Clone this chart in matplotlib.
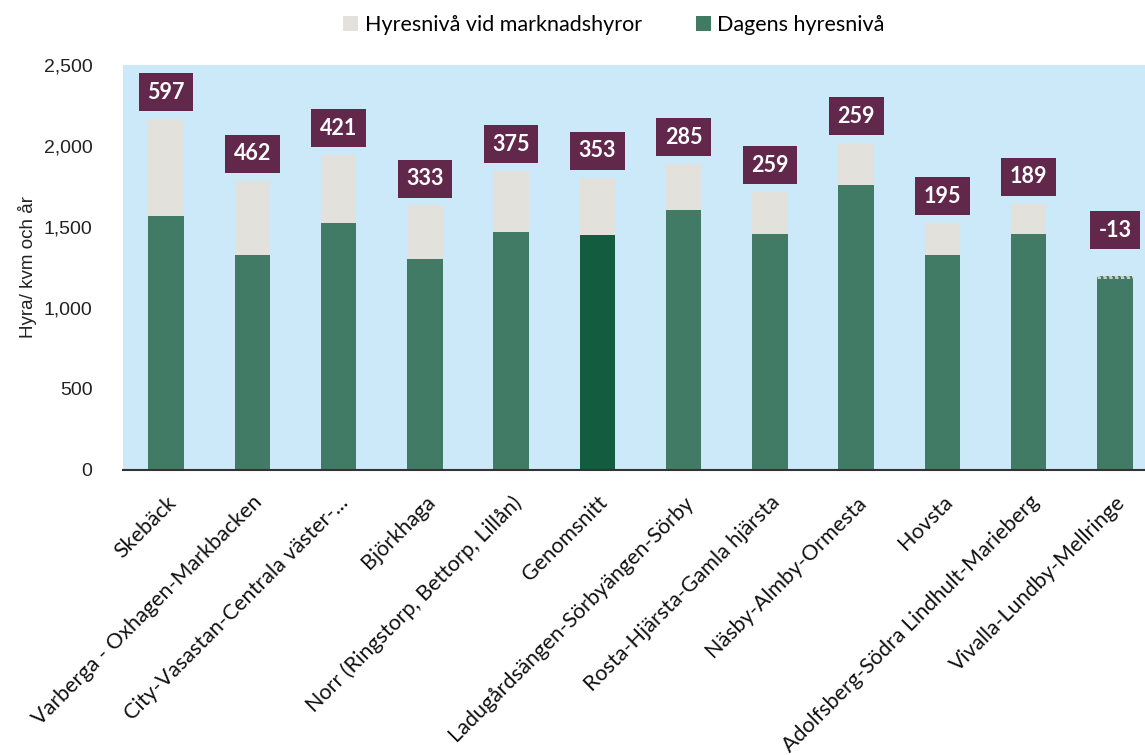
import numpy as np
import matplotlib
matplotlib.use("Agg")
import matplotlib.pyplot as plt
from matplotlib.ticker import FuncFormatter

# -----------------------------------------------------------------------------
# DATA
# -----------------------------------------------------------------------------

areas = [
    "Skebäck",
    "Varberga - Oxhagen-Markbacken",
    "City-Vasastan-Centrala väster-...",
    "Björkhaga",
    "Norr (Ringstorp, Bettorp, Lillån)",
    "Genomsnitt",
    "Ladugårdsängen-Sörbyängen-Sörby",
    "Rosta-Hjärsta-Gamla hjärsta",
    "Näsby-Almby-Ormesta",
    "Hovsta",
    "Adolfsberg-Södra Lindhult-Marieberg",
    "Vivalla-Lundby-Mellringe",
]
current_rent = [1570, 1325, 1523, 1300, 1470, 1452, 1605, 1457, 1760, 1330, 1456, 1198]
market_gap   = [597, 462, 421, 333, 375, 353, 285, 259, 259, 195, 189, -13]
yticks = [0, 500, 1000, 1500, 2000, 2500]

# -----------------------------------------------------------------------------
# STYLE
# -----------------------------------------------------------------------------

GREEN      = "#417b66"
DARK_GREEN = "#135c40"
BEIGE      = "#e3e1db"
BG_BLUE    = "#cce9fa"
PLUM       = "#62284b"
FONT       = "Lato"
TICK_FONT  = "Liberation Sans"

x = np.arange(len(areas))
bar_w = 0.41
green_colors = [DARK_GREEN if a == "Genomsnitt" else GREEN for a in areas]

fig = plt.figure(figsize=(11.45, 7.55), dpi=100)
ax = fig.add_axes([0.1074, 0.3775, 0.904, 0.5364])
ax.set_facecolor(BG_BLUE)

ax.bar(x, current_rent, width=bar_w, color=green_colors, label="Dagens hyresnivå", zorder=2)
pos_gap = [g if g > 0 else 0 for g in market_gap]
ax.bar(x, pos_gap, bottom=current_rent, width=bar_w, color=BEIGE,
       label="Hyresnivå vid marknadshyror", zorder=2)

# negative gap: dashed outline on top of the green bar
for xi, base, gap in zip(x, current_rent, market_gap):
    if gap < 0:
        ax.bar(xi, gap, bottom=base, width=bar_w, color=GREEN, edgecolor=BEIGE,
               linestyle=(0, (2, 1.5)), linewidth=1.2, zorder=3)

# value boxes
for xi, base, gap in zip(x, current_rent, market_gap):
    top = base + max(gap, 0)
    offset = 165 if gap > 0 else 283
    ax.text(xi, top + offset, f"{gap}", ha="center", va="center",
            fontsize=15.5, fontweight="bold", color="white", family=FONT,
            bbox=dict(boxstyle="square,pad=0.4", facecolor=PLUM, edgecolor="none"),
            zorder=4)

ax.set_xlim(-0.5, len(areas) - 0.5)
ax.set_ylim(0, 2500)
ax.set_yticks(yticks)
ax.yaxis.set_major_formatter(FuncFormatter(lambda v, p: f"{int(v):,}"))
ax.tick_params(axis="y", length=0, pad=22, labelsize=14)
for lab in ax.get_yticklabels():
    lab.set_family(TICK_FONT)
    lab.set_color("#222222")

ax.set_xticks(x)
ax.set_xticklabels(areas, rotation=45, ha="right", rotation_mode="anchor",
                   fontsize=15.5, family=FONT, color="#111111")
ax.tick_params(axis="x", length=0, pad=16)

for side in ["top", "right", "left"]:
    ax.spines[side].set_visible(False)
ax.spines["bottom"].set_color("#333333")
ax.spines["bottom"].set_linewidth(1.5)

ax.set_ylabel("Hyra/ kvm och år", fontsize=13.5, family=TICK_FONT, color="#222222")
ax.yaxis.set_label_coords(-0.083, 0.5)

handles, labels = ax.get_legend_handles_labels()
fig.legend(handles[::-1], labels[::-1], loc="center", bbox_to_anchor=(0.536, 0.967),
           ncol=2, frameon=False, prop={"family": FONT, "size": 15.5},
           handlelength=0.7, handleheight=0.7, handletextpad=0.3, columnspacing=2.5)

plt.savefig("out.png", dpi=100)
plt.close()
